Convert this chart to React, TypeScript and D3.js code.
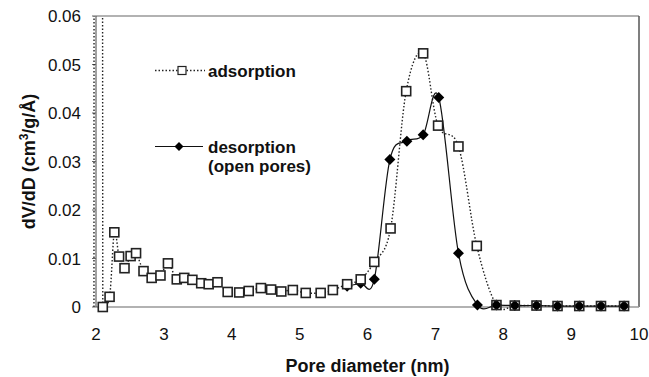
import React from 'react';
import * as d3 from 'd3';

// Adsorption branch (open squares, dotted)
const adsX = [2.10, 2.20, 2.27, 2.34, 2.42, 2.51, 2.59, 2.70, 2.82, 2.95, 3.06, 3.19, 3.30, 3.42, 3.55, 3.66, 3.79, 3.94, 4.11, 4.25, 4.43, 4.58, 4.73, 4.90, 5.09, 5.31, 5.49, 5.70, 5.90, 6.10, 6.34, 6.57, 6.82, 7.04, 7.34, 7.61, 7.90, 8.17, 8.49, 8.80, 9.12, 9.44, 9.78];
const adsY = [0.0000, 0.0021, 0.0154, 0.0104, 0.0080, 0.0105, 0.0111, 0.0074, 0.0060, 0.0065, 0.0090, 0.0057, 0.0060, 0.0056, 0.0049, 0.0047, 0.0051, 0.0031, 0.0030, 0.0033, 0.0039, 0.0036, 0.0032, 0.0035, 0.0029, 0.0029, 0.0035, 0.0047, 0.0057, 0.0093, 0.0162, 0.0445, 0.0523, 0.0374, 0.0331, 0.0126, 0.0004, 0.0003, 0.0003, 0.0002, 0.0002, 0.0002, 0.0002];

// Off-scale start of the adsorption branch (goes above the plot)
const adsOffX = [1.97, 1.975, 2.085, 2.10];
const adsOffY = [0, 0.3, 0.3, 0];

// Desorption branch (filled diamonds, solid)
const desX = [5.70, 5.90, 6.10, 6.33, 6.58, 6.82, 7.05, 7.34, 7.62, 7.90, 8.17, 8.49, 8.80, 9.12, 9.44, 9.78];
const desY = [0.0043, 0.0049, 0.0057, 0.0304, 0.0342, 0.0355, 0.0432, 0.0111, 0.0004, 0.0004, 0.0003, 0.0003, 0.0002, 0.0002, 0.0002, 0.0002];

const xTicks = [2, 3, 4, 5, 6, 7, 8, 9, 10];
const yTicks = [0, 0.01, 0.02, 0.03, 0.04, 0.05, 0.06];
const yTickLabels = ['0', '0.01', '0.02', '0.03', '0.04', '0.05', '0.06'];

export default function App() {
  const W = 649, H = 377;
  const x = d3.scaleLinear().domain([2, 10]).range([96, 639]);
  const y = d3.scaleLinear().domain([0, 0.06]).range([307, 16]);

  const ads = adsX.map((v, i) => [v, adsY[i]] as [number, number]);
  const des = desX.map((v, i) => [v, desY[i]] as [number, number]);
  const off = adsOffX.map((v, i) => [v, adsOffY[i]] as [number, number]);

  const smooth = d3.line<[number, number]>().x(d => x(d[0])).y(d => y(d[1])).curve(d3.curveCardinal.tension(0));
  const straight = d3.line<[number, number]>().x(d => x(d[0])).y(d => y(d[1]));

  const font = 'Liberation Sans, Arial, sans-serif';
  const sq = 9;
  const dm = 5.5;
  const diamond = (cx: number, cy: number, r: number) => `M${cx},${cy - r}L${cx + r},${cy}L${cx},${cy + r}L${cx - r},${cy}Z`;

  return (
    <svg width={W} height={H} style={{ position: 'fixed', left: 0, top: 0, display: 'block', background: '#fff' }} fontFamily={font}>
      <defs>
        <clipPath id="plotclip"><rect x={0} y={16} width={W} height={H - 16} /></clipPath>
      </defs>
      {/* frame */}
      <line x1={x(2)} x2={x(10)} y1={y(0.06)} y2={y(0.06)} stroke="#999" strokeWidth={1.5} />
      <line x1={x(10)} x2={x(10)} y1={y(0.06)} y2={y(0)} stroke="#555" strokeWidth={1.5} />
      <line x1={x(2)} x2={x(10)} y1={y(0)} y2={y(0)} stroke="#999" strokeWidth={1.5} />
      <line x1={x(2)} x2={x(2)} y1={y(0.06)} y2={y(0)} stroke="#444" strokeWidth={1} />
      {yTicks.map(t => (
        <line key={'yt' + t} x1={x(2) - 4} x2={x(2)} y1={y(t)} y2={y(t)} stroke="#666" strokeWidth={1} />
      ))}
      {/* tick labels */}
      {yTicks.map((t, i) => (
        <text key={'yl' + t} x={81} y={y(t)} dy="0.36em" textAnchor="end" fontSize={17} fill="#111">{yTickLabels[i]}</text>
      ))}
      {xTicks.map(t => (
        <text key={'xl' + t} x={x(t)} y={340} textAnchor="middle" fontSize={17} fill="#111">{t}</text>
      ))}
      {/* axis titles */}
      <text x={x(6)} y={372} textAnchor="middle" fontSize={18} fontWeight="bold" fill="#111">Pore diameter (nm)</text>
      <text transform={`translate(35,${(y(0) + y(0.06)) / 2}) rotate(-90)`} textAnchor="middle" fontSize={18} fontWeight="bold" fill="#111">
        dV/dD (cm<tspan dy="-7" fontSize={12}>3</tspan><tspan dy="7">/g/Å)</tspan>
      </text>
      {/* series */}
      <g clipPath="url(#plotclip)">
        <path d={straight(off) || ''} fill="none" stroke="#222" strokeWidth={1.4} strokeDasharray="1.5,2" />
        <path d={smooth(ads) || ''} fill="none" stroke="#222" strokeWidth={1.4} strokeDasharray="1.5,2" />
        <path d={smooth(des) || ''} fill="none" stroke="#111" strokeWidth={1.2} />
        {des.map((d, i) => (
          <path key={'d' + i} d={diamond(x(d[0]), y(d[1]), dm)} fill="#000" />
        ))}
        {ads.map((d, i) => (
          <rect key={'a' + i} x={x(d[0]) - sq / 2} y={y(d[1]) - sq / 2} width={sq} height={sq} fill={i >= 36 ? 'none' : '#fff'} stroke="#222" strokeWidth={1.6} />
        ))}
      </g>
      {/* legend */}
      <line x1={155} x2={205} y1={70.5} y2={70.5} stroke="#222" strokeWidth={1.3} strokeDasharray="1.5,2" />
      <rect x={182 - 4} y={70.5 - 4} width={8} height={8} fill="#fff" stroke="#222" strokeWidth={1.2} />
      <text x={208} y={77} fontSize={17} fontWeight="bold" fill="#111">adsorption</text>
      <line x1={155} x2={203} y1={146.5} y2={146.5} stroke="#111" strokeWidth={1.2} />
      <path d={diamond(179, 146.5, 4.5)} fill="#000" />
      <text x={208} y={153} fontSize={17} fontWeight="bold" fill="#111">desorption</text>
      <text x={208} y={172} fontSize={17} fontWeight="bold" fill="#111">(open pores)</text>
    </svg>
  );
}
